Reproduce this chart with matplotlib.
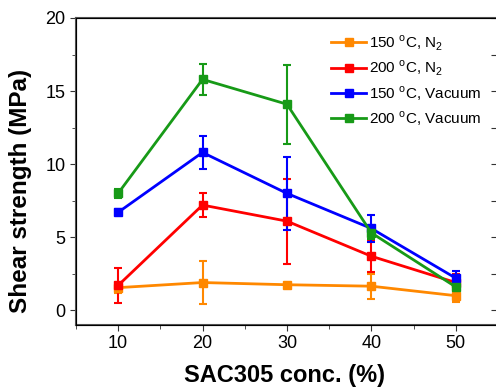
import matplotlib
matplotlib.use("Agg")
import matplotlib.pyplot as plt
from matplotlib.lines import Line2D
from matplotlib.ticker import MultipleLocator

plt.rcParams["font.family"] = ["Liberation Sans", "DejaVu Sans"]
plt.rcParams["mathtext.fontset"] = "custom"
plt.rcParams["mathtext.rm"] = "Liberation Sans"

# --- data ---
conc = [10, 20, 30, 40, 50]

n2_150 = [1.55, 1.9, 1.75, 1.65, 1.0]
n2_150_err = [0.35, 1.5, 0.0, 0.85, 0.45]

n2_200 = [1.7, 7.2, 6.1, 3.7, 1.9]
n2_200_err = [1.2, 0.85, 2.9, 1.05, 0.6]

vac_150 = [6.7, 10.8, 8.0, 5.6, 2.2]
vac_150_err = [0.2, 1.1, 2.5, 0.9, 0.5]

vac_200 = [8.0, 15.8, 14.1, 5.3, 1.6]
vac_200_err = [0.3, 1.05, 2.7, 0.45, 0.8]

labels = ["150 $^{\\rm o}$C, N$_2$", "200 $^{\\rm o}$C, N$_2$",
          "150 $^{\\rm o}$C, Vacuum", "200 $^{\\rm o}$C, Vacuum"]
colors = ["#FF8800", "#FF0000", "#0000FF", "#179A17"]

fig = plt.figure(figsize=(4.96, 3.91), dpi=100)
ax = fig.add_axes([0.153, 0.169, 0.851, 0.785])

series = [(n2_150, n2_150_err), (n2_200, n2_200_err),
          (vac_150, vac_150_err), (vac_200, vac_200_err)]
handles = []
for (vals, errs), lab, col in zip(series, labels, colors):
    ax.errorbar(conc, vals, yerr=errs, color=col, lw=2, marker="s",
                ms=5.5, capsize=3, capthick=1.5, elinewidth=1.5)
    handles.append(Line2D([0], [0], color=col, lw=2, marker="s", ms=5.5, label=lab))

ax.set_xlim(5, 55)
ax.set_ylim(-1, 20)
ax.xaxis.set_major_locator(MultipleLocator(10))
ax.xaxis.set_minor_locator(MultipleLocator(5))
ax.yaxis.set_major_locator(MultipleLocator(5))
ax.yaxis.set_minor_locator(MultipleLocator(2.5))
ax.tick_params(axis="both", which="both", labelsize=13, color="#333333", direction="out")
ax.tick_params(which="major", length=4)
ax.tick_params(which="minor", length=3)
for s in ax.spines.values():
    s.set_color("#555555")
    s.set_linewidth(1.5)

# right-hand ticks point inward
rax = ax.twinx()
rax.set_ylim(ax.get_ylim())
rax.yaxis.set_major_locator(MultipleLocator(2.5))
rax.tick_params(axis="y", direction="in", length=5, color="#333333", labelright=False)

ax.set_xlabel("SAC305 conc. (%)", fontsize=17, fontweight="bold")
ax.xaxis.set_label_coords(0.495, -0.128)
ax.set_ylabel("Shear strength (MPa)", fontsize=17.5, fontweight="bold")
ax.yaxis.set_label_coords(-0.104, 0.436)

ax.legend(handles=handles, loc="upper left", bbox_to_anchor=(0.572, 0.995), frameon=False,
          fontsize=11, handlelength=2.3, handletextpad=0.15, labelspacing=0.4)

fig.savefig("out.png", dpi=100)
